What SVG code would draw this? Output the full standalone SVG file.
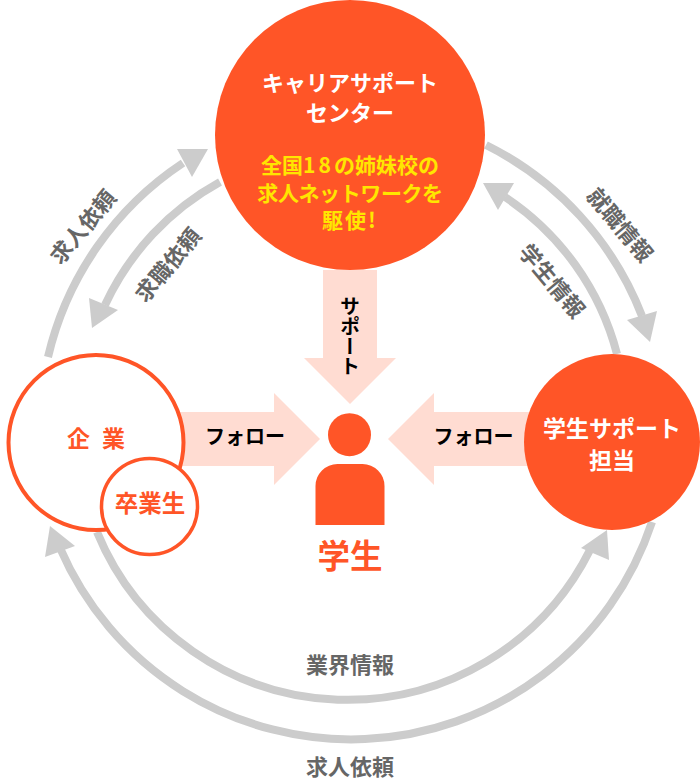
<svg xmlns="http://www.w3.org/2000/svg" width="700" height="780" viewBox="0 0 700 780">
<style>
text{font-family:"Noto Sans CJK JP","Noto Sans",sans-serif;font-weight:700;text-anchor:middle}
.c{fill:none;stroke:#ccc;stroke-width:8}
.h{fill:#ccc}
.p{fill:#ffdcd2}
.o{fill:#ff5527}
.r{fill:#fff;stroke:#ff5527}
.g{fill:#666;font-size:22px}
.k{fill:#000;font-size:20px}
.w{fill:#fff;font-size:22px}
.y{fill:#ffe600;font-size:21px}
</style>
<rect width="700" height="780" fill="#fff"/>
<g id="connectors">
<path class="c" d="M48 357A320 320 0 0 1 183 163"/><polygon class="h" points="208,149 177,149 192,177"/>
<path class="c" d="M220 182A270 270 0 0 0 105 305"/><polygon class="h" points="92,328 89,298 118,310"/>
<path class="c" d="M486 145A320 320 0 0 1 642 316"/><polygon class="h" points="650,342 627,320 657,311"/>
<path class="c" d="M617 354A270 270 0 0 0 505 197"/><polygon class="h" points="483,183 514,183 498,210"/>
<path class="c" d="M97 532A271 271 0 0 0 590 550"/><polygon class="h" points="607,530 581,548 609,560"/>
<path class="c" d="M652 522A317 317 0 0 1 60 548"/><polygon class="h" points="50,526 45,557 75,546"/>
<polygon class="p" points="323,270 377,270 377,358 396,358 350,404 304,358 323,358"/>
<polygon class="p" points="180,412 274,412 274,393 320,439 274,485 274,466 180,466"/>
<polygon class="p" points="530,412 434,412 434,393 388,439 434,485 434,466 530,466"/>
</g>
<g id="label-kyujin-top"><text class="g" transform="translate(83,227) rotate(-50)" y="8">求人依頼</text></g>
<g id="label-kyushoku"><text class="g" transform="translate(168,265) rotate(-50)" y="8">求職依頼</text></g>
<g id="label-shushoku"><text class="g" transform="translate(620,225) rotate(50)" y="8">就職情報</text></g>
<g id="label-gakusei"><text class="g" transform="translate(552,281) rotate(50)" y="8">学生情報</text></g>
<g id="label-gyokai"><text class="g" x="350" y="673">業界情報</text></g>
<g id="label-kyujin-bottom"><text class="g" x="350" y="775">求人依頼</text></g>
<g id="label-support"><text class="k" x="350" y="336" style="writing-mode:vertical-rl">サポート</text></g>
<g id="label-follow-l"><text class="k" x="245" y="444">フォロー</text></g>
<g id="label-follow-r"><text class="k" x="473.500" y="444">フォロー</text></g>
<g id="center">
<circle class="o" cx="350" cy="135" r="135"/>
<text class="w" x="350" y="91">キャリアサポート</text>
<text class="w" x="350" y="121">センター</text>
<text class="y" x="350" y="172.500">全国<tspan letter-spacing="3">18</tspan>の姉妹校の</text>
<text class="y" x="350" y="200.500" letter-spacing="-0.400">求人ネットワークを</text>
<text class="y" x="350" y="228" letter-spacing="2">駆使!</text>
</g>
<g id="company">
<circle class="r" cx="96" cy="442.500" r="87.500" stroke-width="4"/>
<text x="96" y="446.500" fill="#ff5527" font-size="23" word-spacing="7">企 業</text>
</g>
<g id="alumni">
<circle class="r" cx="149.500" cy="506.500" r="48" stroke-width="3.500"/>
<text x="150" y="512" fill="#ff5527" font-size="23.500">卒業生</text>
</g>
<g id="staff">
<circle class="o" cx="612" cy="442" r="88"/>
<text class="w" x="612" y="437" style="font-size:23px">学生サポート</text>
<text class="w" x="612" y="469" style="font-size:23px">担当</text>
</g>
<g id="student">
<circle class="o" cx="349.500" cy="434.700" r="21.500"/>
<path class="o" d="M315.500 525V486A22 22 0 0 1 337.500 464H362.500A22 22 0 0 1 384.500 486V525Z"/>
<text x="350" y="568" fill="#ff5527" font-size="32.500">学生</text>
</g>
</svg>
